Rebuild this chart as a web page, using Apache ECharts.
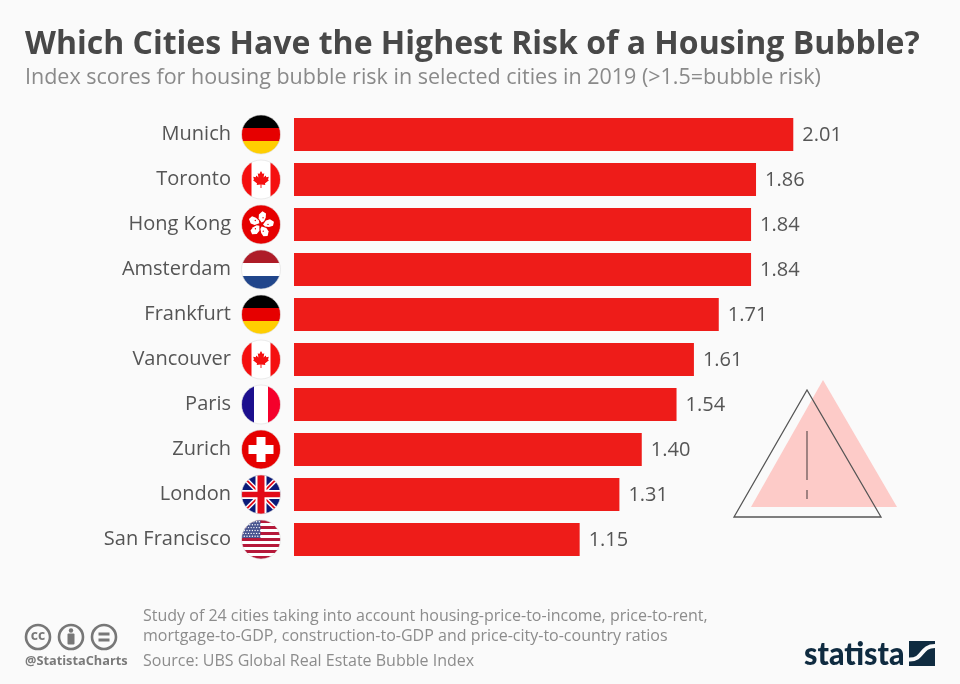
<!DOCTYPE html>
<html lang="en">
<head>
    <meta charset="UTF-8">
    <title>Which Cities Have the Highest Risk of a Housing Bubble?</title>
    <script src="https://cdn.jsdelivr.net/npm/echarts@6/dist/echarts.min.js"></script>
    <style>
        html, body { margin: 0; padding: 0; background: #fafafa; }
        #chart { width: 960px; height: 684px; }
    </style>
</head>
<body>
    <div id="chart"></div>
    <script>
        var cities = ['Munich', 'Toronto', 'Hong Kong', 'Amsterdam', 'Frankfurt', 'Vancouver', 'Paris', 'Zurich', 'London', 'San Francisco'];
        var scores = [2.01, 1.86, 1.84, 1.84, 1.71, 1.61, 1.54, 1.40, 1.31, 1.15];
        var flags = ['de', 'ca', 'hk', 'nl', 'de', 'ca', 'fr', 'ch', 'gb', 'us'];

        var FONT = '"Open Sans", sans-serif';
        var FLAG_R = 19.5;
        var FLAG_OFFSET = 33; // flag centre sits this far left of the bar start

        function rect(x, y, w, h, fill) {
            return { type: 'rect', shape: { x: x, y: y, width: w, height: h }, style: { fill: fill } };
        }
        function poly(points, fill) {
            return { type: 'polygon', shape: { points: points }, style: { fill: fill } };
        }
        function line(x1, y1, x2, y2, color, width) {
            return { type: 'line', shape: { x1: x1, y1: y1, x2: x2, y2: y2 }, style: { stroke: color, lineWidth: width } };
        }
        function dot(x, y, r, fill) {
            return { type: 'circle', shape: { cx: x, cy: y, r: r }, style: { fill: fill } };
        }

        function mapleLeaf(c, y) {
            var pts = [[0, -11], [2.2, -7], [4.2, -8], [3.3, -2.5], [6, -5], [6.8, -3], [10, -3.6], [9, 0], [10.2, 1], [5, 5], [5.6, 7], [0.6, 6.3], [0.6, 11], [-0.6, 11], [-0.6, 6.3], [-5.6, 7], [-5, 5], [-10.2, 1], [-9, 0], [-10, -3.6], [-6.8, -3], [-6, -5], [-3.3, -2.5], [-4.2, -8], [-2.2, -7]];
            return poly(pts.map(function (p) { return [c + p[0] * 0.78, y + p[1] * 0.78]; }), '#f50f0f');
        }

        function bauhinia(c, y) {
            var out = [];
            for (var i = 0; i < 5; i++) {
                var a = -Math.PI / 2 + i * 2 * Math.PI / 5 + 0.3;
                var petal = [[2, 0], [5, -4], [9, -5], [13, -2.5], [12, 1.5], [8, 2.5], [4, 2]];
                out.push(poly(petal.map(function (p) {
                    return [c + p[0] * Math.cos(a) - p[1] * Math.sin(a), y + p[0] * Math.sin(a) + p[1] * Math.cos(a)];
                }), '#ffffff'));
                out.push(dot(c + 7 * Math.cos(a), y + 7 * Math.sin(a), 0.7, '#e60000'));
            }
            return out;
        }

        function flagParts(code, c, y) {
            var r = FLAG_R, d = r * 2, l = c - r, t = y - r, third = d / 3;
            if (code === 'de') {
                return [rect(l, t, d, third, '#000000'), rect(l, t + third, d, third, '#e60000'), rect(l, t + third * 2, d, third, '#ffce00')];
            }
            if (code === 'nl') {
                return [rect(l, t, d, third, '#ae1c28'), rect(l, t + third, d, third, '#ffffff'), rect(l, t + third * 2, d, third, '#21468b')];
            }
            if (code === 'fr') {
                return [rect(l, t, d, d, '#ffffff'), rect(l, t, 12.5, d, '#1c0f8e'), rect(c + 7, t, 12.5, d, '#f5002b')];
            }
            if (code === 'ca') {
                return [rect(l, t, d, d, '#ffffff'), rect(l, t, 10, d, '#f50f0f'), rect(c + 9.5, t, 10, d, '#f50f0f'), mapleLeaf(c, y)];
            }
            if (code === 'hk') {
                return [rect(l, t, d, d, '#e60000')].concat(bauhinia(c, y));
            }
            if (code === 'ch') {
                return [rect(l, t, d, d, '#e60000'), rect(c - 12.5, y - 4.5, 25, 9, '#ffffff'), rect(c - 4.5, y - 12.5, 9, 25, '#ffffff')];
            }
            if (code === 'gb') {
                return [
                    rect(l, t, d, d, '#0b1a78'),
                    line(l, t, l + d, t + d, '#ffffff', 4.5),
                    line(l + d, t, l, t + d, '#ffffff', 4.5),
                    line(l, t, l + d, t + d, '#e30a17', 1.8),
                    line(l + d, t, l, t + d, '#e30a17', 1.8),
                    rect(c - 5.5, t, 11, d, '#ffffff'),
                    rect(l, y - 4.5, d, 9, '#ffffff'),
                    rect(c - 3.5, t, 7, d, '#e30a17'),
                    rect(l, y - 2.8, d, 5.6, '#e30a17')
                ];
            }
            // us: 13 stripes, canton and rows of stars as dots
            var parts = [rect(l, t, d, d, '#ffffff')];
            for (var i = 0; i < 13; i += 2) {
                parts.push(rect(l, t + i * d / 13, d, d / 13, '#b5193a'));
            }
            parts.push(rect(l, t, 19, d * 6 / 13, '#4a5590'));
            for (var row = 0; row < 6; row++) {
                for (var col = 0; col < 7; col++) {
                    parts.push(dot(l + 1.6 + col * 2.7 + (row % 2) * 1.2, t + 1.8 + row * 2.9, 0.7, '#ffffff'));
                }
            }
            return parts;
        }

        function renderFlag(params, api) {
            var pos = api.coord([0, api.value(1)]);
            var c = pos[0] - FLAG_OFFSET, y = pos[1];
            var children = flagParts(flags[params.dataIndex], c, y);
            children.forEach(function (el) {
                el.clipPath = { type: 'circle', shape: { cx: c, cy: y, r: FLAG_R } };
            });
            children.push({
                type: 'circle',
                shape: { cx: c, cy: y, r: FLAG_R },
                style: { fill: 'none', stroke: '#dddddd', lineWidth: 0.6 }
            });
            return { type: 'group', children: children };
        }

        var chart = echarts.init(document.getElementById('chart'));
        chart.setOption({
            animation: false,
            backgroundColor: '#fafafa',
            title: [
                {
                    text: 'Which Cities Have the Highest Risk of a Housing Bubble?',
                    left: 20, top: 24,
                    textStyle: { fontFamily: FONT, fontWeight: 700, fontSize: 32, color: '#484848' }
                },
                {
                    text: 'Index scores for housing bubble risk in selected cities in 2019 (>1.5=bubble risk)',
                    left: 20, top: 62,
                    textStyle: { fontFamily: FONT, fontWeight: 400, fontSize: 21.5, color: '#8a8a8a' }
                }
            ],
            grid: { left: 294, top: 112, width: 621, height: 450 },
            xAxis: { type: 'value', min: 0, max: 2.5, show: false },
            yAxis: {
                type: 'category',
                inverse: true,
                data: cities,
                axisLine: { show: false },
                axisTick: { show: false },
                axisLabel: { margin: 63, fontFamily: FONT, fontSize: 20, color: '#555555' }
            },
            series: [
                {
                    type: 'bar',
                    data: scores,
                    barWidth: 33,
                    itemStyle: { color: '#ee1c19' },
                    label: {
                        show: true,
                        position: 'right',
                        distance: 9,
                        offset: [0, 1],
                        fontFamily: FONT,
                        fontSize: 20,
                        color: '#555555',
                        formatter: function (p) { return p.value.toFixed(2); }
                    }
                },
                {
                    type: 'custom',
                    clip: false,
                    silent: true,
                    renderItem: renderFlag,
                    encode: { x: 0, y: 1 },
                    data: cities.map(function (name, i) { return [0, i]; })
                }
            ],
            graphic: [
                // warning triangle
                { type: 'polygon', shape: { points: [[823, 380], [751, 507], [897, 507]] }, style: { fill: '#fdcbc8' } },
                { type: 'polygon', shape: { points: [[807, 390], [734, 517], [881, 517]] }, style: { fill: 'none', stroke: '#555555', lineWidth: 1.3 } },
                { type: 'line', shape: { x1: 807, y1: 431, x2: 807, y2: 480 }, style: { stroke: '#6e5a5a', lineWidth: 1.3 } },
                { type: 'line', shape: { x1: 807, y1: 490, x2: 807, y2: 499 }, style: { stroke: '#6e5a5a', lineWidth: 1.3 } },

                // footer notes
                { type: 'text', left: 143, top: 608, style: { text: 'Study of 24 cities taking into account housing-price-to-income, price-to-rent,', font: '16px ' + FONT, fill: '#8c8c8c' } },
                { type: 'text', left: 143, top: 628, style: { text: 'mortgage-to-GDP, construction-to-GDP and price-city-to-country ratios', font: '16px ' + FONT, fill: '#8c8c8c' } },
                { type: 'text', left: 143, top: 653, style: { text: 'Source: UBS Global Real Estate Bubble Index', font: '16px ' + FONT, fill: '#8c8c8c' } },
                { type: 'text', left: 25, top: 655, style: { text: '@StatistaCharts', font: 'bold 12.75px ' + FONT, fill: '#7a7a7a' } },

                // licence icons
                { type: 'circle', shape: { cx: 38, cy: 637, r: 12 }, style: { fill: 'none', stroke: '#777777', lineWidth: 2.6 } },
                { type: 'text', x: 38, y: 636, style: { text: 'cc', font: 'bold 14px ' + FONT, fill: '#777777', align: 'center', verticalAlign: 'middle' } },
                { type: 'circle', shape: { cx: 71, cy: 637, r: 12 }, style: { fill: 'none', stroke: '#777777', lineWidth: 2.6 } },
                { type: 'circle', shape: { cx: 71, cy: 630.5, r: 2.2 }, style: { fill: '#777777' } },
                { type: 'rect', shape: { x: 67.5, y: 633.5, width: 7, height: 11, r: 1 }, style: { fill: '#777777' } },
                { type: 'circle', shape: { cx: 104, cy: 637, r: 12 }, style: { fill: 'none', stroke: '#777777', lineWidth: 2.6 } },
                { type: 'rect', shape: { x: 98.5, y: 632.5, width: 11, height: 3 }, style: { fill: '#777777' } },
                { type: 'rect', shape: { x: 98.5, y: 638.5, width: 11, height: 3 }, style: { fill: '#777777' } },

                // statista logo
                { type: 'text', x: 804, y: 654, scaleX: 0.92, style: { text: 'statista', font: '900 33px Lato, sans-serif', fill: '#0f2b40', verticalAlign: 'middle' } },
                { type: 'rect', shape: { x: 909, y: 641, width: 26, height: 25 }, style: { fill: '#0f2b40' } },
                { type: 'bezierCurve', shape: { x1: 909, y1: 659.5, x2: 935, y2: 646, cpx1: 924, cpy1: 660, cpx2: 920, cpy2: 646 }, style: { fill: 'none', stroke: '#fafafa', lineWidth: 4 } }
            ]
        });
    </script>
</body>
</html>
